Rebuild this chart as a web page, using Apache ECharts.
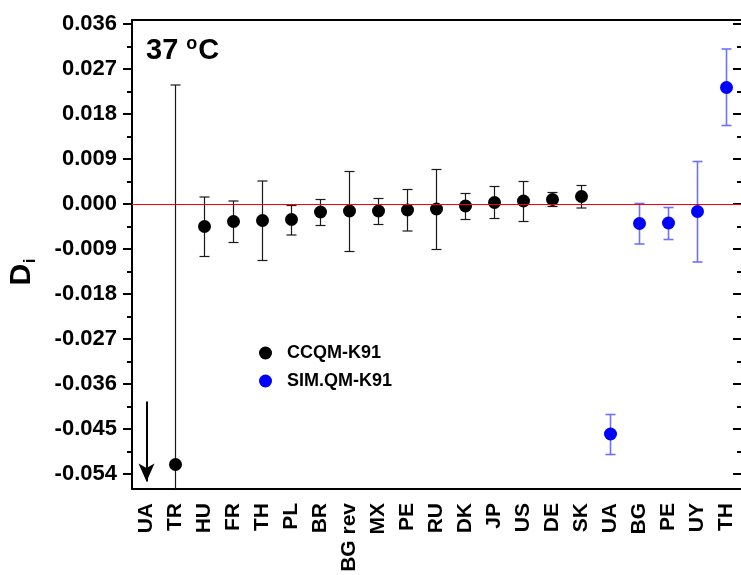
<!DOCTYPE html>
<html>
<head>
<meta charset="utf-8">
<script src="https://cdn.jsdelivr.net/npm/echarts@6/dist/echarts.min.js"></script>
<style>
  html, body { margin: 0; padding: 0; background: #fff; }
  #chart { width: 741px; height: 575px; }
</style>
</head>
<body>
<div id="chart"></div>
<script>
// categories on the x axis (lab codes)
const categories = ['UA', 'TR', 'HU', 'FR', 'TH', 'PL', 'BR', 'BG rev', 'MX', 'PE', 'RU',
    'DK', 'JP', 'US', 'DE', 'SK', 'UA', 'BG', 'PE', 'UY', 'TH'];

// CCQM-K91 degrees of equivalence with lower / upper uncertainty limits
const ccqmValues = [null, -0.0521, -0.0045, -0.0035, -0.0033, -0.0031, -0.0016, -0.0014, -0.0014, -0.0012, -0.0010,
    -0.0004, 0.0003, 0.0006, 0.0009, 0.0015, null, null, null, null, null];
const ccqmUpper = [null, 0.0238, 0.0014, 0.0006, 0.0046, -0.0003, 0.0009, 0.0065, 0.0011, 0.0029, 0.0069,
    0.0021, 0.0035, 0.0045, 0.0023, 0.0037, null, null, null, null, null];
const ccqmLower = [null, -0.1280, -0.0105, -0.0077, -0.0113, -0.0062, -0.0043, -0.0095, -0.0041, -0.0054, -0.0091,
    -0.0031, -0.0029, -0.0035, -0.0005, -0.0008, null, null, null, null, null];

// SIM.QM-K91 values
const simValues = [null, null, null, null, null, null, null, null, null, null, null,
    null, null, null, null, null, -0.0460, -0.0039, -0.0038, -0.0015, 0.0233];
const simUpper = [null, null, null, null, null, null, null, null, null, null, null,
    null, null, null, null, null, -0.0421, 0.0001, -0.0007, 0.0085, 0.0310];
const simLower = [null, null, null, null, null, null, null, null, null, null, null,
    null, null, null, null, null, -0.0501, -0.0080, -0.0071, -0.0116, 0.0157];

// y axis ticks
const yTickLabels = [-0.054, -0.045, -0.036, -0.027, -0.018, -0.009, 0.000, 0.009, 0.018, 0.027, 0.036];
const yMinorTicks = [-0.0495, -0.0405, -0.0315, -0.0225, -0.0135, -0.0045, 0.0045, 0.0135, 0.0225, 0.0315];
const yMin = -0.057;
const yMax = 0.0368;

// UA (off scale) arrow
const arrowFrom = -0.0395;
const arrowTo = -0.0555;

const FONT = '"Liberation Sans", Arial, sans-serif';

const points = (vals) => vals.map((v, i) => v === null ? null : [i, v]).filter(d => d);
const bars = (lo, hi) => lo.map((v, i) => v === null ? null : [i, v, hi[i]]).filter(d => d);

const chart = echarts.init(document.getElementById('chart'), null, { renderer: 'canvas' });

const errorBar = (color, width) => (params, api) => {
    const x = api.value(0);
    let lo = api.value(1);
    const hi = api.value(2);
    const clipped = lo < yMin;
    if (clipped) lo = yMin;
    const pLo = api.coord([x, lo]);
    const pHi = api.coord([x, hi]);
    const cap = 5;
    const style = { stroke: color, lineWidth: width };
    const children = [
        { type: 'line', shape: { x1: pLo[0], y1: pLo[1], x2: pHi[0], y2: pHi[1] }, style },
        { type: 'line', shape: { x1: pHi[0] - cap, y1: pHi[1], x2: pHi[0] + cap, y2: pHi[1] }, style }
    ];
    if (!clipped) {
        children.push({ type: 'line', shape: { x1: pLo[0] - cap, y1: pLo[1], x2: pLo[0] + cap, y2: pLo[1] }, style });
    }
    return { type: 'group', children };
};

const valueAxis = (extra) => Object.assign({
    type: 'value',
    min: yMin,
    max: yMax,
    splitLine: { show: false },
    axisLine: { show: true, onZero: false, lineStyle: { color: '#000', width: 2 } },
    axisLabel: { show: false },
}, extra);

const option = {
    backgroundColor: '#fff',
    animation: false,
    grid: { left: 132, top: 20, width: 611, height: 469, containLabel: false },
    legend: {
        orient: 'vertical',
        left: 254,
        top: 339,
        itemGap: 10,
        itemWidth: 13,
        itemHeight: 13,
        icon: 'circle',
        textStyle: { fontFamily: FONT, fontWeight: 'bold', fontSize: 18, color: '#000', lineHeight: 18, padding: [0, 0, 0, 10] },
        data: ['CCQM-K91', 'SIM.QM-K91']
    },
    xAxis: [
        {
            type: 'category',
            data: categories,
            position: 'bottom',
            axisLine: { onZero: false, lineStyle: { color: '#000', width: 2 } },
            axisTick: { alignWithLabel: true, inside: false, length: 8, lineStyle: { color: '#000', width: 2 } },
            axisLabel: {
                interval: 0,
                rotate: 90,
                margin: 14,
                fontFamily: FONT,
                fontWeight: 'bold',
                fontSize: 21,
                color: '#000'
            }
        },
        {
            type: 'category',
            data: categories,
            position: 'top',
            axisLine: { onZero: false, lineStyle: { color: '#000', width: 2 } },
            axisTick: { alignWithLabel: true, inside: true, length: 8, lineStyle: { color: '#000', width: 2 } },
            axisLabel: { show: false }
        }
    ],
    yAxis: [
        valueAxis({
            position: 'left',
            axisTick: { show: true, inside: false, length: 9, customValues: yTickLabels, lineStyle: { color: '#000', width: 2 } },
            axisLabel: {
                show: true,
                customValues: yTickLabels,
                margin: 15,
                formatter: (v) => v.toFixed(3),
                fontFamily: FONT,
                fontWeight: 'bold',
                fontSize: 22,
                color: '#000'
            }
        }),
        valueAxis({
            position: 'left',
            axisLine: { show: false },
            axisTick: { show: true, inside: false, length: 5, customValues: yMinorTicks, lineStyle: { color: '#000', width: 2 } }
        }),
        valueAxis({
            position: 'right',
            axisLine: { show: false },
            axisTick: { show: true, inside: true, length: 8, customValues: yTickLabels, lineStyle: { color: '#000', width: 2 } }
        }),
        valueAxis({
            position: 'right',
            axisLine: { show: false },
            axisTick: { show: true, inside: true, length: 4, customValues: yMinorTicks, lineStyle: { color: '#000', width: 2 } }
        })
    ],
    graphic: [
        {
            type: 'text',
            left: 146,
            top: 35,
            style: {
                text: '{a|37 }{b|o}{a|C}',
                rich: {
                    a: { fontFamily: FONT, fontWeight: 'bold', fontSize: 29, fill: '#000', lineHeight: 31 },
                    b: { fontFamily: FONT, fontWeight: 'bold', fontSize: 18, fill: '#000', verticalAlign: 'top', lineHeight: 31, padding: [0, 1, 13, 0] }
                }
            }
        },
        {
            type: 'text',
            x: 22,
            y: 272,
            rotation: Math.PI / 2,
            style: {
                text: '{d|D}{i|i}',
                align: 'center',
                verticalAlign: 'middle',
                rich: {
                    d: { fontFamily: FONT, fontWeight: 'bold', fontSize: 30, fill: '#000', lineHeight: 34 },
                    i: { fontFamily: FONT, fontWeight: 'bold', fontSize: 16, fill: '#000', verticalAlign: 'bottom', lineHeight: 34, padding: [12, 0, 0, 1] }
                }
            }
        }
    ],
    series: [
        {
            name: 'ccqm-err',
            type: 'custom',
            renderItem: errorBar('#1a1a1a', 1.2),
            encode: { x: 0, y: [1, 2] },
            data: bars(ccqmLower, ccqmUpper),
            z: 2,
            silent: true
        },
        {
            name: 'sim-err',
            type: 'custom',
            renderItem: errorBar('#7070ff', 1.6),
            encode: { x: 0, y: [1, 2] },
            data: bars(simLower, simUpper),
            z: 2,
            silent: true
        },
        {
            name: 'CCQM-K91',
            type: 'scatter',
            symbol: 'circle',
            symbolSize: 13,
            itemStyle: { color: '#000', opacity: 1 },
            data: points(ccqmValues),
            z: 4,
            markLine: {
                silent: true,
                symbol: ['none', 'arrow'],
                symbolSize: [12, 18],
                label: { show: false },
                lineStyle: { color: '#000', width: 2, type: 'solid' },
                data: [[{ coord: [0, arrowFrom] }, { coord: [0, arrowTo] }]]
            }
        },
        {
            name: 'SIM.QM-K91',
            type: 'scatter',
            symbol: 'circle',
            symbolSize: 13,
            itemStyle: { color: '#0000ff', opacity: 1 },
            data: points(simValues),
            z: 4,
            markLine: {
                silent: true,
                symbol: 'none',
                label: { show: false },
                lineStyle: { color: '#ff0000', width: 1.2, type: 'solid' },
                data: [{ yAxis: 0 }]
            }
        }
    ]
};

chart.setOption(option);
</script>
</body>
</html>
